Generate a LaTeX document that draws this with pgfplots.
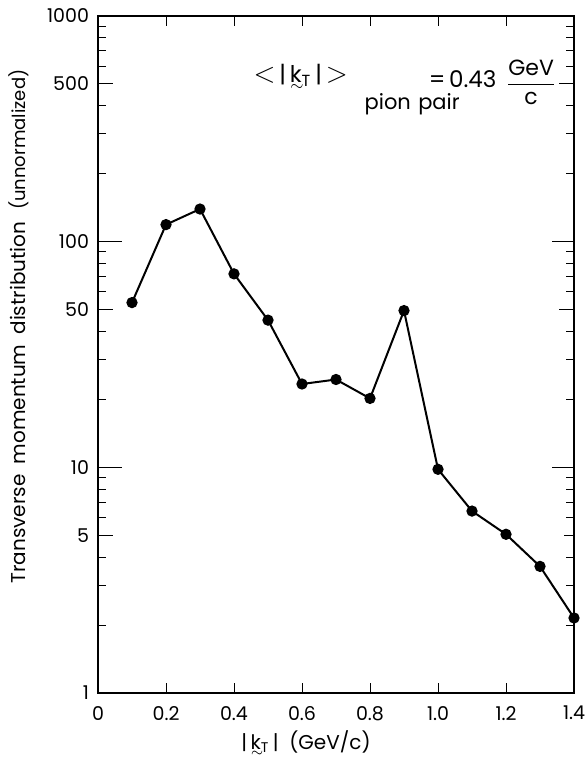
\documentclass[border=0pt]{standalone}
\usepackage{amsmath}
\usepackage{fontspec}
\setmainfont{Poppins}
\usepackage{pgfplots}
\pgfplotsset{compat=1.18}
\usetikzlibrary{calc}

% k with a small tilde just underneath (vector notation), subscript T
\newcommand{\vk}{\rlap{\raisebox{-0.62ex}[0pt][0pt]{\kern0.02em$\scriptstyle\sim$}}k\textsubscript{T}}

\begin{document}
\begin{tikzpicture}
\begin{semilogyaxis}[
    name=ax,
    scale only axis,
    width=238pt, height=338.5pt,
    xmin=0, xmax=1.4,
    ymin=1, ymax=1000,
    xtick={0,0.2,0.4,0.6,0.8,1.0,1.2,1.4},
    xticklabels={0,0.2,0.4,0.6,0.8,1.0,1.2,1.4},
    ytick={1,5,10,50,100,500,1000},
    yticklabels={1,5,10,50,100,500,1000},
    minor ytick={2,3,4,6,7,8,9,20,30,40,60,70,80,90,200,300,400,600,700,800,900},
    tick align=inside,
    major tick length=5pt,
    minor tick length=4pt,
    axis line style={line width=0.6pt},
    every tick/.style={black, line width=0.5pt},
    ticklabel style={font=\fontsize{9.5}{11}\selectfont},
    xticklabel style={yshift=-3pt},
    yticklabel style={xshift=-1pt},
]
    % distribution, one point per 0.1 GeV/c bin
    \addplot[black, line width=1pt, mark=*, mark size=2.3pt] coordinates {
        (0.1, 53.7) (0.2, 119) (0.3, 139.5) (0.4, 72) (0.5, 44.9)
        (0.6, 23.4) (0.7, 24.5) (0.8, 20.2) (0.9, 49.5) (1.0, 9.8)
        (1.1, 6.4) (1.2, 5.05) (1.3, 3.64) (1.4, 2.15)
    };

    % longer ticks at decades and at 5x decades
    \draw[line width=0.5pt] (axis cs:0,10) -- ([xshift=12pt]axis cs:0,10);
    \draw[line width=0.5pt] (axis cs:0,100) -- ([xshift=12pt]axis cs:0,100);
    \draw[line width=0.5pt] (axis cs:0,5) -- ([xshift=7.5pt]axis cs:0,5);
    \draw[line width=0.5pt] (axis cs:0,50) -- ([xshift=7.5pt]axis cs:0,50);
    \draw[line width=0.5pt] (axis cs:0,500) -- ([xshift=7.5pt]axis cs:0,500);
    \draw[line width=0.5pt] (axis cs:1.4,10) -- ([xshift=-11pt]axis cs:1.4,10);
    \draw[line width=0.5pt] (axis cs:1.4,100) -- ([xshift=-11pt]axis cs:1.4,100);
    \draw[line width=0.5pt] (axis cs:1.4,50) -- ([xshift=-7.5pt]axis cs:1.4,50);
    \draw[line width=0.5pt] (axis cs:1.4,500) -- ([xshift=-7.5pt]axis cs:1.4,500);

    % annotation
    \node[anchor=west, inner sep=0pt, font=\fontsize{11.5}{13}\selectfont] at (rel axis cs:0.326,0.912)
        {{\fontsize{15}{15}\selectfont$<$}\,|\,\vk\,|\,{\fontsize{15}{15}\selectfont$>$}};
    \node[font=\fontsize{10.5}{12}\selectfont] at (rel axis cs:0.66,0.869) {pion\hspace{0.35em}pair};
    \node[anchor=west, inner sep=0pt, font=\fontsize{11.5}{13}\selectfont] at (rel axis cs:0.694,0.907) {=\,0.43};
    \node[font=\fontsize{11}{12}\selectfont] at (rel axis cs:0.91,0.902)
        {$\dfrac{\text{GeV}}{\text{c}}$};
\end{semilogyaxis}

% axis labels
\node[rotate=90, font=\fontsize{10}{11}\selectfont] at ($(ax.west)+(-39.5pt,14pt)$)
    {Transverse\hspace{0.5em}momentum\hspace{0.5em}distribution\hspace{0.6em}{\fontsize{9}{10}\selectfont(unnormalized)}};
\node[font=\fontsize{10}{11}\selectfont] at ($(ax.south west)+(104pt,-24.5pt)$)
    {|\,\vk\,|\ \ (GeV/c)};

\pgfresetboundingbox
\path ($(ax.south west)+(-49pt,-34pt)$) rectangle ($(ax.north east)+(6pt,8pt)$);
\end{tikzpicture}
\end{document}
